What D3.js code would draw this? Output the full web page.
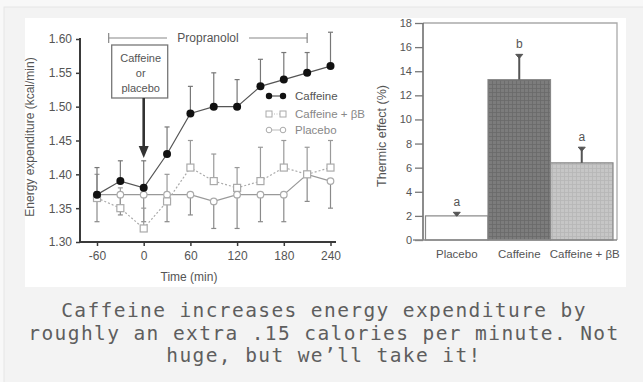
<!DOCTYPE html>
<html>
<head>
<meta charset="utf-8">
<script src="https://cdn.jsdelivr.net/npm/d3@7"></script>
<style>
  html, body { margin: 0; padding: 0; background: #f8f8f8; }
  svg { display: block; }
</style>
</head>
<body>
<svg id="chart" width="643" height="382"></svg>
<script>
// ---------- DATA ----------
const times = [-60, -30, 0, 30, 60, 90, 120, 150, 180, 210, 240];
const caffeine      = [1.37, 1.39, 1.38, 1.43, 1.49, 1.50, 1.50, 1.53, 1.54, 1.55, 1.56];
const caffeineUpper = [1.41, 1.42, 1.42, 1.47, 1.53, 1.55, 1.54, 1.57, 1.58, 1.58, 1.61];
const caffeineBB      = [1.365, 1.35, 1.32, 1.36, 1.41, 1.39, 1.38, 1.39, 1.41, 1.40, 1.41];
const caffeineBBUpper = [1.40, 1.38, 1.35, 1.40, 1.45, 1.43, 1.41, 1.44, 1.45, 1.44, 1.45];
const placebo      = [1.37, 1.37, 1.37, 1.37, 1.37, 1.36, 1.37, 1.37, 1.37, 1.40, 1.39];
const placeboLower = [1.33, 1.34, 1.33, 1.33, 1.34, 1.32, 1.32, 1.33, 1.33, 1.36, 1.35];
const leftYTicks = [1.30, 1.35, 1.40, 1.45, 1.50, 1.55, 1.60];
const leftXTicks = [-60, 0, 60, 120, 180, 240];
const propranolol = [-45, 210];
const legendLabels = ["Caffeine", "Caffeine + βB", "Placebo"];

const barCategories = ["Placebo", "Caffeine", "Caffeine + βB"];
const thermic      = [2.0, 13.3, 6.4];
const thermicUpper = [2.3, 15.4, 7.7];
const sigLetters   = ["a", "b", "a"];
const rightYTicks  = [0, 2, 4, 6, 8, 10, 12, 14, 16, 18];

const captionLines = [
  "Caffeine increases energy expenditure by",
  "roughly an extra .15 calories per minute. Not",
  "huge, but we\u2019ll take it!"
];

// ---------- SETUP ----------
const svg = d3.select("#chart");
const FONT = "'Liberation Sans', Arial, sans-serif";
const INK = "#3a3a3a";
const TXT = "#555";

const defs = svg.append("defs");
function gridPattern(id, bg, line) {
  const p = defs.append("pattern").attr("id", id).attr("width", 4).attr("height", 4)
    .attr("patternUnits", "userSpaceOnUse");
  p.append("rect").attr("width", 4).attr("height", 4).attr("fill", bg);
  p.append("path").attr("d", "M0 0.5H4M0.5 0V4").attr("stroke", line).attr("stroke-width", 0.8);
}
gridPattern("darkTex", "#7c7c7c", "#6a6a6a");
gridPattern("lightTex", "#c6c6c6", "#b6b6b6");

svg.append("rect").attr("x", 4).attr("y", 7).attr("width", 650).attr("height", 390)
  .attr("fill", "#f3f3f3").attr("stroke", "#e6e6e6");
svg.append("rect").attr("x", 25).attr("y", 18).attr("width", 601).attr("height", 269)
  .attr("fill", "#ffffff");

// ---------- LEFT CHART ----------
const xL = d3.scaleLinear().domain([-60, 240]).range([97, 330.5]);
const yL = d3.scaleLinear().domain([1.30, 1.60]).range([242, 39]);
const left = svg.append("g");

const yAxisL = d3.axisLeft(yL).tickValues(leftYTicks).tickFormat(d3.format(".2f")).tickSize(4).tickPadding(4);
const gy = left.append("g").attr("transform", "translate(80,0)").call(yAxisL);
gy.select(".domain").attr("d", `M0,${yL(1.60) - 1}V${yL(1.30)}`);
const xAxisL = d3.axisBottom(xL).tickValues(leftXTicks).tickFormat(d => String(d)).tickSize(4).tickPadding(5);
const gx = left.append("g").attr("transform", `translate(0,${yL(1.30)})`).call(xAxisL);
gx.select(".domain").attr("d", `M80,0H336`);
[gy, gx].forEach(g => {
  g.selectAll(".domain").attr("stroke", INK).attr("stroke-width", 2);
  g.selectAll(".tick line").attr("stroke", INK).attr("stroke-width", 1.5);
  g.selectAll(".tick text").attr("fill", TXT).attr("font-family", FONT).attr("font-size", 12);
});

left.append("text").attr("transform", "translate(34,137) rotate(-90)")
  .attr("text-anchor", "middle").attr("font-family", FONT).attr("font-size", 12).attr("fill", TXT)
  .text("Energy expenditure (kcal/min)");
left.append("text").attr("x", 189).attr("y", 281).attr("text-anchor", "middle")
  .attr("font-family", FONT).attr("font-size", 12).attr("fill", TXT).text("Time (min)");

function errBars(vals, ends, color) {
  const g = left.append("g").attr("stroke", color).attr("stroke-width", 1.2);
  times.forEach((t, i) => {
    const x = xL(t);
    g.append("line").attr("x1", x).attr("x2", x).attr("y1", yL(vals[i])).attr("y2", yL(ends[i]));
    g.append("line").attr("x1", x - 2.5).attr("x2", x + 2.5).attr("y1", yL(ends[i])).attr("y2", yL(ends[i]));
  });
}
errBars(placebo, placeboLower, "#8a8a8a");
errBars(caffeineBB, caffeineBBUpper, "#9a9a9a");
errBars(caffeine, caffeineUpper, "#777");

const line = d3.line().x((d, i) => xL(times[i])).y(d => yL(d));
left.append("path").datum(placebo).attr("d", line).attr("fill", "none")
  .attr("stroke", "#999").attr("stroke-width", 1.2);
left.append("path").datum(caffeineBB).attr("d", line).attr("fill", "none")
  .attr("stroke", "#aaa").attr("stroke-width", 1.2).attr("stroke-dasharray", "2,2");
left.append("path").datum(caffeine).attr("d", line).attr("fill", "none")
  .attr("stroke", "#555").attr("stroke-width", 1.2);

left.append("g").selectAll("circle").data(placebo).join("circle")
  .attr("cx", (d, i) => xL(times[i])).attr("cy", d => yL(d)).attr("r", 3.3)
  .attr("fill", "#fff").attr("stroke", "#aaa").attr("stroke-width", 1.2);
left.append("g").selectAll("rect").data(caffeineBB).join("rect")
  .attr("x", (d, i) => xL(times[i]) - 3.5).attr("y", d => yL(d) - 3.5).attr("width", 7).attr("height", 7)
  .attr("fill", "#fff").attr("stroke", "#aaa").attr("stroke-width", 1.2);
left.append("g").selectAll("circle").data(caffeine).join("circle")
  .attr("cx", (d, i) => xL(times[i])).attr("cy", d => yL(d)).attr("r", 4)
  .attr("fill", "#111");

// Propranolol bracket
const pY = 38, px0 = xL(propranolol[0]), px1 = xL(propranolol[1]);
const br = left.append("g").attr("stroke", "#888").attr("stroke-width", 1.2);
br.append("line").attr("x1", px0).attr("x2", 167).attr("y1", pY).attr("y2", pY);
br.append("line").attr("x1", 249).attr("x2", px1).attr("y1", pY).attr("y2", pY);
br.append("line").attr("x1", px0).attr("x2", px0).attr("y1", pY - 5).attr("y2", pY + 5);
br.append("line").attr("x1", px1).attr("x2", px1).attr("y1", pY - 5).attr("y2", pY + 5);
left.append("text").attr("x", 208).attr("y", pY + 4).attr("text-anchor", "middle")
  .attr("font-family", FONT).attr("font-size", 12).attr("fill", TXT).text("Propranolol");

// Caffeine or placebo box + arrow
const bx = xL(0);
left.append("rect").attr("x", bx - 32).attr("y", 45).attr("width", 56).attr("height", 53)
  .attr("fill", "#fff").attr("stroke", "#777").attr("stroke-width", 1.3);
["Caffeine", "or", "placebo"].forEach((t, i) => {
  left.append("text").attr("x", bx - 3).attr("y", 62 + i * 15).attr("text-anchor", "middle")
    .attr("font-family", FONT).attr("font-size", 11).attr("fill", TXT).text(t);
});
left.append("line").attr("x1", bx).attr("x2", bx).attr("y1", 98).attr("y2", 147)
  .attr("stroke", "#333").attr("stroke-width", 2.6);
left.append("path").attr("d", `M${bx - 5},146L${bx + 5},146L${bx},158Z`).attr("fill", "#333");

// Legend
const lgX = 269, lgY = [96, 114, 130];
const lg = left.append("g");
lg.append("line").attr("x1", lgX).attr("x2", lgX + 14).attr("y1", lgY[0]).attr("y2", lgY[0]).attr("stroke", "#333");
[lgX, lgX + 14].forEach(x => lg.append("circle").attr("cx", x).attr("cy", lgY[0]).attr("r", 3.2).attr("fill", "#111"));
lg.append("line").attr("x1", lgX).attr("x2", lgX + 14).attr("y1", lgY[1]).attr("y2", lgY[1])
  .attr("stroke", "#bbb").attr("stroke-dasharray", "1,1.5");
[lgX, lgX + 14].forEach(x => lg.append("rect").attr("x", x - 3).attr("y", lgY[1] - 3).attr("width", 6).attr("height", 6)
  .attr("fill", "#fff").attr("stroke", "#aaa"));
lg.append("line").attr("x1", lgX).attr("x2", lgX + 14).attr("y1", lgY[2]).attr("y2", lgY[2]).attr("stroke", "#bbb");
[lgX, lgX + 14].forEach(x => lg.append("circle").attr("cx", x).attr("cy", lgY[2]).attr("r", 2.8)
  .attr("fill", "#fff").attr("stroke", "#aaa"));
legendLabels.forEach((t, i) => {
  lg.append("text").attr("x", 295).attr("y", lgY[i] + 4).attr("font-family", FONT)
    .attr("font-size", 11.5).attr("fill", i === 0 ? "#555" : "#888").text(t);
});

// ---------- RIGHT CHART ----------
const right = svg.append("g");
const xR = d3.scaleBand().domain(barCategories).range([425.5, 613]).padding(0);
const yR = d3.scaleLinear().domain([0, 18]).range([240, 23]);

right.append("path").attr("d", `M423,${yR(18)}H617V${yR(0)}`).attr("fill", "none")
  .attr("stroke", "#aaa").attr("stroke-width", 1.3);

const fills = ["#ffffff", "url(#darkTex)", "url(#lightTex)"];
right.append("g").selectAll("rect").data(thermic).join("rect")
  .attr("x", (d, i) => xR(barCategories[i])).attr("y", d => yR(d))
  .attr("width", xR.bandwidth()).attr("height", d => yR(0) - yR(d))
  .attr("fill", (d, i) => fills[i]).attr("stroke", "#888").attr("stroke-width", 1.2);

const eg = right.append("g");
thermic.forEach((v, i) => {
  const cx = xR(barCategories[i]) + xR.bandwidth() / 2;
  eg.append("line").attr("x1", cx).attr("x2", cx).attr("y1", yR(v)).attr("y2", yR(thermicUpper[i]))
    .attr("stroke", "#555").attr("stroke-width", 2);
  eg.append("path").attr("d", `M${cx - 3.5},${yR(thermicUpper[i])}H${cx + 3.5}L${cx},${yR(thermicUpper[i]) + 4}Z`)
    .attr("fill", "#555").attr("stroke", "#555").attr("stroke-width", 1);
  eg.append("text").attr("x", cx).attr("y", yR(thermicUpper[i]) - 6).attr("text-anchor", "middle")
    .attr("font-family", FONT).attr("font-size", 12).attr("fill", TXT).text(sigLetters[i]);
});

const yAxisR = d3.axisLeft(yR).tickValues(rightYTicks).tickSize(8).tickPadding(3);
const gyr = right.append("g").attr("transform", "translate(423,0)").call(yAxisR);
gyr.select(".domain").attr("d", `M0,${yR(18)}V${yR(0)}`);
gyr.selectAll(".domain").attr("stroke", "#666").attr("stroke-width", 1.5);
gyr.selectAll(".tick line").attr("stroke", "#777").attr("stroke-width", 1.3);
gyr.selectAll(".tick text").attr("fill", TXT).attr("font-family", FONT).attr("font-size", 11);
right.append("line").attr("x1", 413).attr("x2", 617).attr("y1", yR(0)).attr("y2", yR(0))
  .attr("stroke", "#888").attr("stroke-width", 1.5);

const xAxisR = d3.axisBottom(xR).tickSize(0).tickPadding(10);
const gxr = right.append("g").attr("transform", `translate(0,${yR(0)})`).call(xAxisR);
gxr.select(".domain").remove();
gxr.selectAll(".tick text").attr("fill", TXT).attr("font-family", FONT).attr("font-size", 11.5)
  .attr("dx", (d, i) => i === 2 ? 3 : 0);

right.append("text").attr("transform", "translate(386,136) rotate(-90)")
  .attr("text-anchor", "middle").attr("font-family", FONT).attr("font-size", 12.5).attr("fill", TXT)
  .text("Thermic effect (%)");

// ---------- CAPTION ----------
captionLines.forEach((t, i) => {
  svg.append("text").attr("x", 324).attr("y", 317 + i * 22.5).attr("text-anchor", "middle")
    .attr("font-family", "'DejaVu Sans Mono', monospace").attr("font-size", 19.5)
    .attr("letter-spacing", 1.4).attr("fill", "#5e5e5e").text(t);
});
</script>
</body>
</html>
